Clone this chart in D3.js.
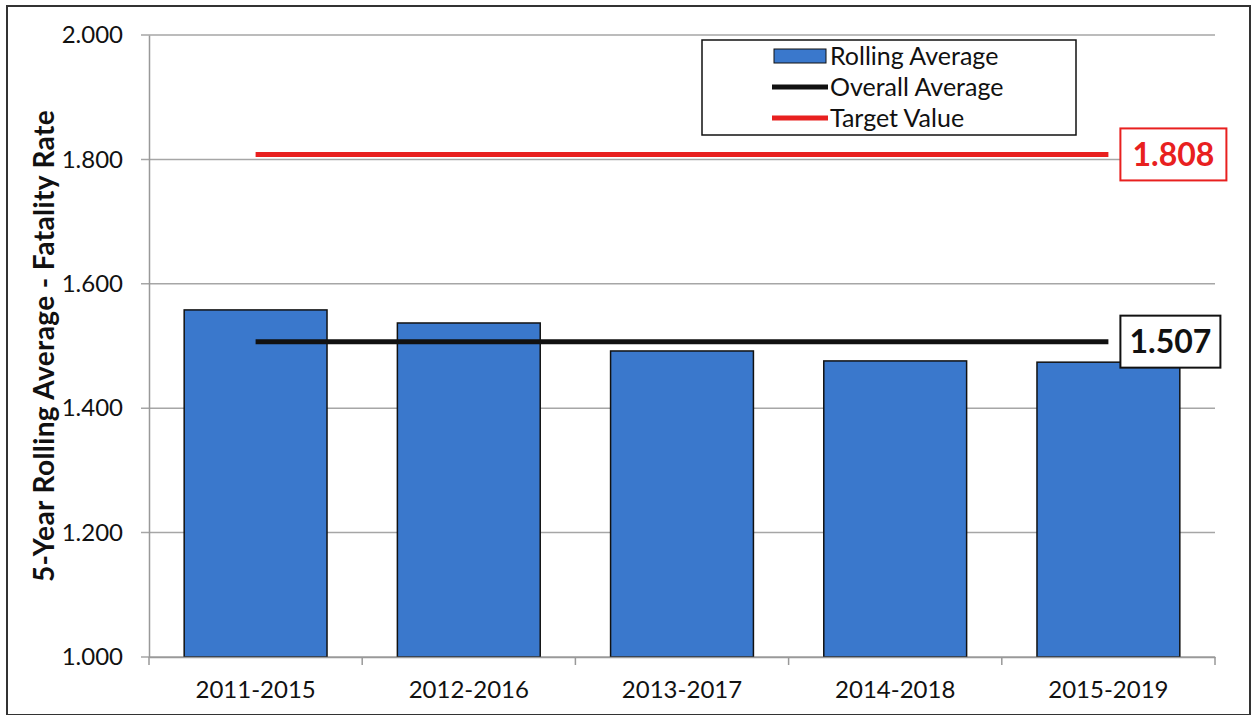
<!DOCTYPE html>
<html>
<head>
<meta charset="utf-8">
<script src="https://cdn.jsdelivr.net/npm/d3@7"></script>
<style>
  body { margin: 0; background: #fff; }
  text { font-family: Lato, "Open Sans", sans-serif; }
</style>
</head>
<body>
<div id="chart"></div>
<script>
var periods = ["2011-2015", "2012-2016", "2013-2017", "2014-2018", "2015-2019"];
var rollingAverage = [1.558, 1.537, 1.492, 1.476, 1.474];
var overallAverage = 1.507;
var targetValue = 1.808;
var yTicks = [1.0, 1.2, 1.4, 1.6, 1.8, 2.0];
var legendLabels = ["Rolling Average", "Overall Average", "Target Value"];

var svgWidth = 1254;
var svgHeight = 715;

var margin = { top: 35, right: 39, bottom: 58, left: 149 };
var width = svgWidth - margin.left - margin.right;
var height = svgHeight - margin.top - margin.bottom;

var svg = d3.select("#chart")
  .append("svg")
  .attr("width", svgWidth)
  .attr("height", svgHeight);

// outer chart border
svg.append("rect")
  .attr("x", 7).attr("y", 6)
  .attr("width", svgWidth - 11).attr("height", svgHeight - 6)
  .attr("fill", "none")
  .attr("stroke", "#333")
  .attr("stroke-width", 2);

var chartGroup = svg.append("g")
  .attr("transform", `translate(${margin.left}, ${margin.top})`);

var xScale = d3.scaleBand()
  .domain(periods)
  .range([0, width])
  .paddingInner(0.33)
  .paddingOuter(0.165);

var xCenter = d3.scalePoint()
  .domain(periods)
  .range([0, width])
  .padding(0.5);

var yScale = d3.scaleLinear()
  .domain([1.0, 2.0])
  .range([height, 0]);

// gridlines
chartGroup.append("g")
  .selectAll("line")
  .data(yTicks)
  .enter()
  .append("line")
  .attr("x1", -8)
  .attr("x2", width)
  .attr("y1", d => yScale(d))
  .attr("y2", d => yScale(d))
  .attr("stroke", "#a6a6a6")
  .attr("stroke-width", 1.5);

// y axis
var leftAxis = d3.axisLeft(yScale)
  .tickValues(yTicks)
  .tickFormat(d3.format(".3f"))
  .tickSize(0)
  .tickPadding(26);

var yAxisG = chartGroup.append("g").call(leftAxis);
yAxisG.select(".domain").attr("stroke", "#999").attr("stroke-width", 1.5);
yAxisG.selectAll("text")
  .attr("font-size", "24px")
  .attr("fill", "#111")
  .style("font-family", "Lato, sans-serif");

// bars
chartGroup.selectAll("rect.bar")
  .data(rollingAverage)
  .enter()
  .append("rect")
  .attr("class", "bar")
  .attr("x", (d, i) => xScale(periods[i]))
  .attr("y", d => yScale(d))
  .attr("width", xScale.bandwidth())
  .attr("height", d => height - yScale(d))
  .attr("fill", "#3a78cc")
  .attr("stroke", "#111")
  .attr("stroke-width", 1.5);

// x axis
var step = width / periods.length;
var bottomAxis = d3.axisBottom(xScale).tickSize(0).tickPadding(24);
var xAxisG = chartGroup.append("g")
  .attr("transform", `translate(0, ${height})`)
  .call(bottomAxis);
xAxisG.select(".domain").attr("stroke", "#999").attr("stroke-width", 1.5);
xAxisG.selectAll("text")
  .attr("font-size", "24px")
  .attr("fill", "#111")
  .style("font-family", "Lato, sans-serif");

// tick marks between categories
xAxisG.selectAll("line.sep")
  .data(d3.range(periods.length + 1))
  .enter()
  .append("line")
  .attr("class", "sep")
  .attr("x1", d => d * step)
  .attr("x2", d => d * step)
  .attr("y1", 0)
  .attr("y2", 8)
  .attr("stroke", "#999")
  .attr("stroke-width", 1.5);

// reference lines
var first = periods[0], last = periods[periods.length - 1];

chartGroup.append("line")
  .attr("x1", xCenter(first))
  .attr("x2", xCenter(last))
  .attr("y1", yScale(targetValue))
  .attr("y2", yScale(targetValue))
  .attr("stroke", "#e8201f")
  .attr("stroke-width", 5);

chartGroup.append("line")
  .attr("x1", xCenter(first))
  .attr("x2", xCenter(last))
  .attr("y1", yScale(overallAverage))
  .attr("y2", yScale(overallAverage))
  .attr("stroke", "#111")
  .attr("stroke-width", 5);

// value label boxes
function valueBox(value, color, w) {
  var g = chartGroup.append("g")
    .attr("transform", `translate(${xCenter(last) + 12}, ${yScale(value)})`);
  g.append("rect")
    .attr("x", 0).attr("y", -26)
    .attr("width", w).attr("height", 52)
    .attr("fill", "#fff")
    .attr("stroke", color)
    .attr("stroke-width", 2);
  g.append("text")
    .attr("x", w / 2).attr("y", 0)
    .attr("dy", "0.36em")
    .attr("text-anchor", "middle")
    .attr("font-size", "32px")
    .attr("font-weight", "bold")
    .attr("fill", color)
    .text(d3.format(".3f")(value));
}
valueBox(targetValue, "#e8201f", 106);
valueBox(overallAverage, "#111", 100);

// legend
var legend = svg.append("g").attr("transform", "translate(702, 40)");
legend.append("rect")
  .attr("width", 374).attr("height", 95)
  .attr("fill", "#fff")
  .attr("stroke", "#111")
  .attr("stroke-width", 1.5);

var legendRows = legend.selectAll("g.row")
  .data(legendLabels)
  .enter()
  .append("g")
  .attr("class", "row")
  .attr("transform", (d, i) => `translate(0, ${16 + i * 31})`);

legendRows.each(function(d, i) {
  var row = d3.select(this);
  if (i === 0) {
    row.append("rect")
      .attr("x", 72).attr("y", -7)
      .attr("width", 52).attr("height", 14)
      .attr("fill", "#3a78cc")
      .attr("stroke", "#111")
      .attr("stroke-width", 1);
  } else {
    row.append("line")
      .attr("x1", 70).attr("x2", 126)
      .attr("stroke", i === 1 ? "#111" : "#e8201f")
      .attr("stroke-width", 5);
  }
  row.append("text")
    .attr("x", 128)
    .attr("dy", "0.35em")
    .attr("font-size", "25px")
    .attr("fill", "#111")
    .text(d);
});

// y axis title
svg.append("text")
  .attr("transform", "translate(44, 346) rotate(-90)")
  .attr("text-anchor", "middle")
  .attr("dy", "0.35em")
  .attr("font-size", "28px")
  .attr("font-weight", "bold")
  .attr("letter-spacing", "0.4px")
  .attr("fill", "#111")
  .text("5-Year Rolling Average - Fatality Rate");
</script>
</body>
</html>
